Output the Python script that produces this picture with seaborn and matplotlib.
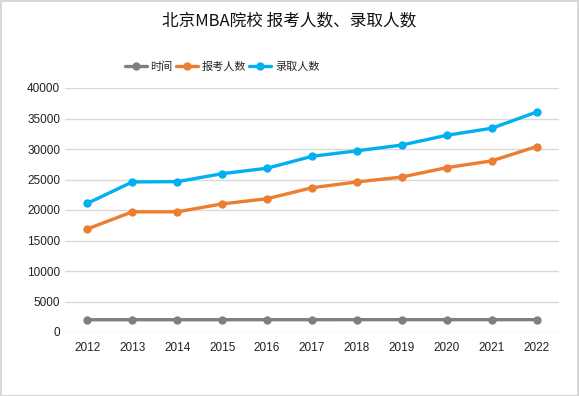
import matplotlib
matplotlib.use('Agg')
import matplotlib.pyplot as plt
import seaborn as sns
import pandas as pd
from matplotlib.patches import Rectangle

sns.set_style('white')
plt.rcParams['font.family'] = ['Noto Sans CJK SC', 'DejaVu Sans']

# data
years = [2012, 2013, 2014, 2015, 2016, 2017, 2018, 2019, 2020, 2021, 2022]
time_vals = years  # the "时间" series is the year itself
applicants = [16900, 19700, 19700, 21000, 21850, 23650, 24600, 25400, 26950, 28050, 30400]
admitted = [21100, 24600, 24650, 25950, 26850, 28800, 29700, 30650, 32250, 33400, 36050]
series_names = ['时间', '报考人数', '录取人数']
colors = ['#7f7f7f', '#ed7d31', '#00b0f0']

df = pd.DataFrame({'year': years * 3,
                   'value': time_vals + applicants + admitted,
                   'series': [series_names[0]] * 11 + [series_names[1]] * 11 + [series_names[2]] * 11})

fig = plt.figure(figsize=(5.79, 3.96), dpi=100)
ax = fig.add_axes([65 / 579, 1 - 332 / 396, 494 / 579, 244 / 396])

sns.lineplot(data=df, x='year', y='value', hue='series', palette=colors,
             marker='o', markersize=6, markeredgewidth=0, linewidth=2.4, ax=ax)

ax.set_xlim(2011.5, 2022.5)
ax.set_ylim(0, 40000)
ax.set_xticks(years)
ax.set_xticklabels([str(y) for y in years])
ax.set_yticks(range(0, 40001, 5000))
ax.tick_params(axis='both', length=0, labelsize=8.5, colors='#222222')
ax.tick_params(axis='x', pad=7)
for lbl in ax.get_xticklabels() + ax.get_yticklabels():
    lbl.set_family(['Liberation Sans', 'DejaVu Sans'])
ax.set_xlabel('')
ax.set_ylabel('')
ax.grid(axis='y', color='#d9d9d9', linewidth=1)
ax.set_axisbelow(True)
for s in ax.spines.values():
    s.set_visible(False)

handles, labels = ax.get_legend_handles_labels()
ax.legend_.remove()
fig.legend(handles, labels, loc='center', bbox_to_anchor=(222 / 579, 1 - 67 / 396),
           ncol=3, frameon=False, fontsize=8, handlelength=2.0, handletextpad=0.3,
           columnspacing=0.3)

fig.text(0.5, 1 - 21 / 396, '北京MBA院校 报考人数、录取人数', ha='center', va='center',
         fontsize=12, color='#111111')

fig.patches.append(Rectangle((0.001, 0.001), 0.997, 0.996, transform=fig.transFigure,
                             fill=False, edgecolor='#d0d0d0', linewidth=1.2))

plt.savefig('out.png', dpi=100)
